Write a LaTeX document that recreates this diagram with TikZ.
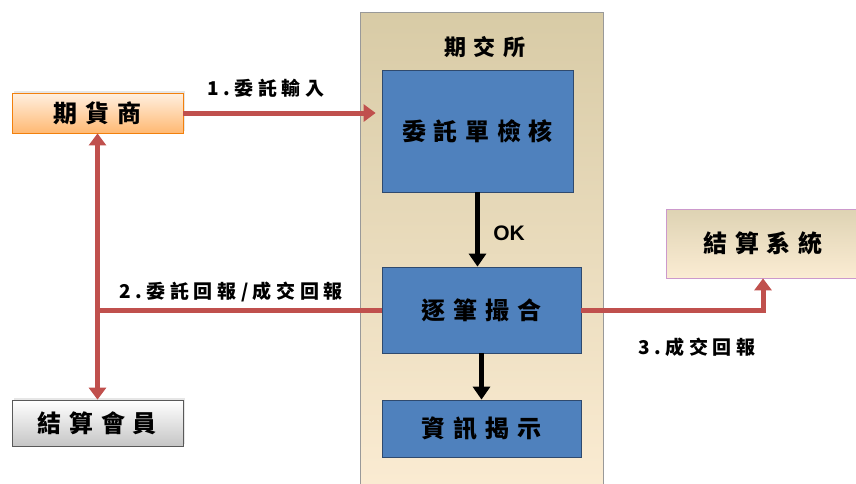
\documentclass[tikz,border=0pt]{standalone}
\usepackage{fontspec}
\newfontfamily\cjkbox[LetterSpace=32]{Noto Sans CJK TC}
\newfontfamily\cjklabel[LetterSpace=24]{Noto Sans CJK TC}
\newfontfamily\oklabel{Liberation Sans}
\usetikzlibrary{arrows.meta,shadows}
\definecolor{redline}{HTML}{C0504D}
\definecolor{boxblue}{HTML}{4F81BD}
\definecolor{boxblueline}{HTML}{2F4A6E}
\definecolor{paneltop}{HTML}{D8CBA6}
\definecolor{panelbot}{HTML}{FBECD3}
\tikzset{
  redarrow/.style={draw=redline, line width=5pt, -{Triangle[width=17pt,length=12pt]}},
  redline/.style={draw=redline, line width=5pt},
  blackarrow/.style={draw=black, line width=5pt, -{Triangle[width=17pt,length=13pt]}},
  bluebox/.style={draw=boxblueline, fill=boxblue, line width=0.8pt, font=\cjkbox\bfseries\fontsize{24}{28}\selectfont},
  sidebox/.style={line width=0.8pt, minimum width=171pt, font=\cjkbox\bfseries\fontsize{24}{28}\selectfont,
    drop shadow={opacity=0.2, shadow xshift=1.5pt, shadow yshift=2pt}},
  flowlabel/.style={font=\cjklabel\bfseries\fontsize{19}{23}\selectfont}
}
\begin{document}
\begin{tikzpicture}[x=1pt,y=-1pt]
\useasboundingbox (0,0) rectangle (856,483);
% exchange panel
\shadedraw[top color=paneltop, bottom color=panelbot, draw=gray!80, line width=0.8pt] (360,12) rectangle (603,495);
\node[font=\cjkbox\bfseries\fontsize{22}{26}\selectfont] (exch) at (485,47) {期交所};

% exchange boxes
\node[bluebox, minimum width=191pt, minimum height=122pt] (check) at (477.5,131) {委託單檢核};
\node[bluebox, minimum width=199pt, minimum height=86pt] (match) at (481.5,310) {逐筆撮合};
\node[bluebox, minimum width=199pt, minimum height=57pt] (info) at (481.5,428.5) {資訊揭示};

% outside boxes
\node[sidebox, minimum height=40pt, draw=orange!80!brown, top color=orange!12, bottom color=orange!55] (broker) at (97.5,113) {期貨商};
\node[sidebox, minimum height=46pt, draw=gray!70!black, top color=white, bottom color=gray!45] (member) at (97.5,423) {結算會員};
\node[line width=0.8pt, minimum width=194pt, minimum height=69pt, draw=violet!40, top color=paneltop!85, bottom color=panelbot,
  font=\cjkbox\bfseries\fontsize{24}{28}\selectfont] (clear) at (763,243.5) {結算系統};

% black arrows
\draw[blackarrow] (check.south) -- (check.south |- match.north);
\draw[blackarrow] (match.south) -- (match.south |- info.north);
\node[font=\oklabel\bfseries\fontsize{21}{24}\selectfont] (ok) at (509,233) {OK};

% red arrows
\draw[redarrow, shorten >=6pt] (broker.east) -- (broker.east -| check.west);
\coordinate (split) at (broker.south |- match.west);
\draw[redline] (match.west) -- (split);
\draw[redarrow] (split) -- (broker.south);
\draw[redarrow] (split) -- (member.north);
\draw[redarrow] (match.east) -| (clear.south);

% labels
\node[flowlabel] (lab1) at (266,88) {1.委託輸入};
\node[flowlabel] (lab2) at (231,292) {2.委託回報/成交回報};
\node[flowlabel] (lab3) at (697,347) {3.成交回報};
\end{tikzpicture}
\end{document}
